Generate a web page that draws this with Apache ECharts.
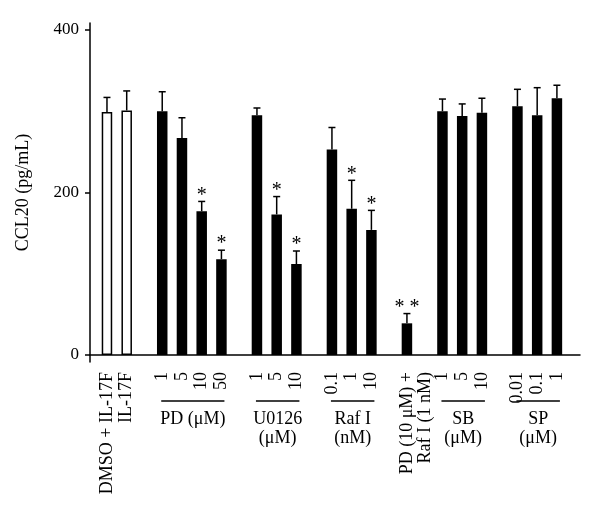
<!DOCTYPE html>
<html><head><meta charset="utf-8">
<script src="https://cdn.jsdelivr.net/npm/echarts@6/dist/echarts.min.js"></script>
<style>html,body{margin:0;padding:0;background:#fff}#c{width:600px;height:518px}</style>
</head><body><div id="c"></div>
<script>
// ---- data ----
const groupSizes = [2, 4, 3, 3, 1, 3, 3];
const groupTitles = ["", "PD (\u03bcM)", "U0126\n(\u03bcM)", "Raf I\n(nM)", "", "SB\n(\u03bcM)", "SP\n(\u03bcM)"];
const tickLabels = ["DMSO + IL-17F", "IL-17F", "1", "5", "10", "50", "1", "5", "10", "0.1", "1", "10",
  "PD (10 \u03bcM) +\nRaf I (1 nM)", "1", "5", "10", "0.01", "0.1", "1"];
const values = [299, 301, 300, 267, 177, 118, 295, 173, 112, 253, 180, 154, 39, 300, 294, 298, 306, 295, 316];
const errors = [18, 24, 24, 25, 12, 11, 9, 22, 16, 27, 35, 24, 12, 15, 15, 18, 21, 34, 16];
const sigMarks = ["", "", "", "", "*", "*", "", "*", "*", "", "*", "*", "* *", "", "", "", "", "", ""];
const openBars = [true, true];
const yTicks = [0, 200, 400];
const yAxisName = "CCL20 (pg/mL)";

// ---- layout ----
const GAP = 1.8;          // spacing between groups, in bar steps
const UNIT_PX = 19.73;    // pixels per bar step
const LABEL_LH = 18;
const FONT = "Liberation Serif";
const positions = [];
const groupSpans = [];
let p = 0;
groupSizes.forEach((n, g) => {
  const start = p;
  for (let i = 0; i < n; i++) { positions.push(p); p += 1; }
  groupSpans.push([start, p - 1, g]);
  p += GAP - 1;
});
const labelPositions = tickLabels.map((t, i) =>
  positions[i] + (t.split("\n").length - 1) * (LABEL_LH / 2) / UNIT_PX);

const barData = values.map((v, i) => ({
  value: [positions[i], v],
  itemStyle: openBars[i]
    ? { color: "#fff", borderColor: "#000", borderWidth: 1.5 }
    : { color: "#000" }
}));
const errData = values.map((v, i) => [positions[i], v, errors[i], i]);
const grpData = groupSpans.filter(s => groupTitles[s[2]] !== "");

const chart = echarts.init(document.getElementById("c"), null, { renderer: "canvas" });
chart.setOption({
  animation: false,
  grid: { left: 90, right: 20, top: 23, bottom: 156 },
  xAxis: {
    type: "value", min: -0.86, max: 23.97,
    splitLine: { show: false },
    axisLine: { onZero: true, lineStyle: { color: "#000", width: 1.5 } },
    axisTick: { show: false },
    axisLabel: {
      customValues: labelPositions,
      showMinLabel: true, showMaxLabel: true, hideOverlap: false,
      rotate: 90, margin: 10,
      color: "#000", fontFamily: FONT, fontSize: 18, lineHeight: LABEL_LH,
      formatter: (val) => {
        const i = labelPositions.findIndex(q => Math.abs(q - val) < 1e-6);
        return i >= 0 ? tickLabels[i] : "";
      }
    }
  },
  yAxis: {
    type: "value", min: -8.6, max: 408.6,
    name: yAxisName, nameLocation: "middle", nameRotate: 90, nameGap: 58,
    nameTextStyle: { color: "#000", fontFamily: FONT, fontSize: 18 },
    splitLine: { show: false },
    axisLine: { show: true, onZero: false, lineStyle: { color: "#000", width: 1.5 } },
    axisTick: { show: true, customValues: yTicks, length: 5, lineStyle: { color: "#000", width: 1.5 } },
    axisLabel: { customValues: yTicks, showMinLabel: true, showMaxLabel: true, margin: 11, color: "#000", fontFamily: FONT, fontSize: 17 }
  },
  series: [
    {
      type: "bar", data: barData, barWidth: 10.5, silent: true
    },
    {
      type: "custom", clip: false, silent: true, data: errData,
      renderItem: (params, api) => {
        const x = api.value(0), v = api.value(1), e = api.value(2);
        const idx = api.value(3);
        const b = api.coord([x, v]);
        const t = api.coord([x, v + e]);
        const children = [
          { type: "line", shape: { x1: b[0], y1: b[1], x2: t[0], y2: t[1] }, style: { stroke: "#000", lineWidth: 1.5 } },
          { type: "line", shape: { x1: t[0] - 3.5, y1: t[1], x2: t[0] + 3.5, y2: t[1] }, style: { stroke: "#000", lineWidth: 1.5 } }
        ];
        if (sigMarks[idx]) {
          children.push({
            type: "text", x: t[0], y: t[1] + 4,
            style: { text: sigMarks[idx], fill: "#000", font: "20px " + FONT, textAlign: "center", textVerticalAlign: "bottom" }
          });
        }
        return { type: "group", children };
      }
    },
    {
      type: "custom", clip: false, silent: true, data: grpData,
      renderItem: (params, api) => {
        const s = api.value(0), e = api.value(1), g = api.value(2);
        const a = api.coord([s, 0]);
        const c = api.coord([e, 0]);
        const y = a[1] + 46;
        const x1 = a[0] - 1, x2 = c[0] + 3;
        return {
          type: "group", children: [
            { type: "line", shape: { x1, y1: y, x2, y2: y }, style: { stroke: "#000", lineWidth: 1.5 } },
            { type: "text", x: (x1 + x2) / 2, y: y + 9,
              style: { text: groupTitles[g], fill: "#000", font: "18px " + FONT, textAlign: "center", textVerticalAlign: "top", lineHeight: 19 } }
          ]
        };
      }
    }
  ]
});
</script></body></html>
